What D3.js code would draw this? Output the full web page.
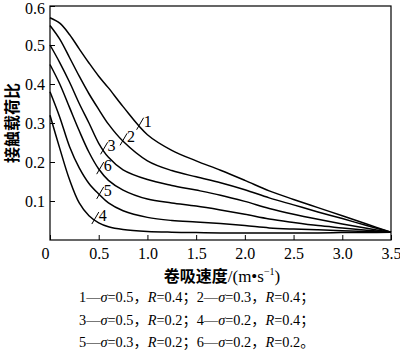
<!DOCTYPE html>
<html><head><meta charset="utf-8">
<script src="https://cdn.jsdelivr.net/npm/d3@7"></script>
<style>
body{margin:0;background:#fff;}
svg{display:block;}
</style></head><body>
<svg id="c" width="400" height="360"></svg>
<script>
// ---- data ----
const speed = [0,0.1,0.2,0.3,0.4,0.5,0.6,0.75,1.0,1.25,1.5,1.75,2.0,2.25,2.5,2.75,3.0,3.25,3.5];
const curve1 = [0.57,0.556,0.527,0.49,0.454,0.42,0.39,0.342,0.27,0.23,0.203,0.179,0.153,0.126,0.104,0.083,0.062,0.041,0.02];
const curve2 = [0.55,0.515,0.468,0.42,0.375,0.335,0.297,0.253,0.203,0.178,0.162,0.147,0.129,0.108,0.09,0.072,0.055,0.037,0.02];
const curve3 = [0.50,0.455,0.405,0.35,0.3,0.248,0.212,0.18,0.155,0.14,0.128,0.115,0.099,0.081,0.066,0.053,0.041,0.03,0.02];
const curve4 = [0.32,0.235,0.155,0.095,0.062,0.044,0.034,0.027,0.022,0.02,0.019,0.018,0.018,0.018,0.018,0.018,0.019,0.019,0.02];
const curve5 = [0.38,0.315,0.24,0.185,0.145,0.118,0.095,0.075,0.058,0.05,0.046,0.042,0.037,0.031,0.028,0.026,0.024,0.022,0.02];
const curve6 = [0.45,0.4,0.34,0.28,0.225,0.182,0.153,0.128,0.105,0.095,0.087,0.077,0.066,0.054,0.045,0.037,0.031,0.025,0.02];
const curveNames = ["1","2","3","4","5","6"];
const curveLabelX = [0.92,0.75,0.55,0.46,0.51,0.51];
const xTicks = [0,0.5,1.0,1.5,2.0,2.5,3.0,3.5];
const xTickLabels = ["0","0.5","1.0","1.5","2.0","2.5","3.0","3.5"];
const yTicks = [0.1,0.2,0.3,0.4,0.5,0.6];
const yTickLabels = ["0.1","0.2","0.3","0.4","0.5","0.6"];
const xTitleCjk = "卷吸速度";
const xTitleUnit = "/(m•s";
const yTitle = "接触载荷比";
const legendRows = [
  [["1—",0],["σ",1],["=0.5，",0],["R",1],["=0.4；2—",0],["σ",1],["=0.3，",0],["R",1],["=0.4；",0]],
  [["3—",0],["σ",1],["=0.5，",0],["R",1],["=0.2；4—",0],["σ",1],["=0.2，",0],["R",1],["=0.4；",0]],
  [["5—",0],["σ",1],["=0.3，",0],["R",1],["=0.2；6—",0],["σ",1],["=0.2，",0],["R",1],["=0.2。",0]]
];

const series = [curve1,curve2,curve3,curve4,curve5,curve6];

// ---- layout ----
const svg = d3.select("#c");
const L=50,R=391,T=6,B=240;
const x = d3.scaleLinear().domain([0,3.5]).range([L,R]);
const y = d3.scaleLinear().domain([0,0.6]).range([B,T]);
const serif = "'Liberation Serif', 'Times New Roman', serif";
const cjk = "'Liberation Serif', 'Noto Sans CJK SC', serif";

// axes
const gx = svg.append("g").attr("transform",`translate(0,${B})`)
  .call(d3.axisBottom(x).tickValues(xTicks).tickFormat((d,i)=>xTickLabels[i]).tickSize(-5).tickSizeOuter(0).tickPadding(8));
gx.select(".domain").remove();
gx.attr("font-family",null).attr("font-size",null);
gx.selectAll("text").style("font-family",serif).style("font-size","16px").attr("fill","#000")
  .attr("dx",(d,i)=>i===0?-5:0);
gx.selectAll("line").attr("stroke","#000");

const gy = svg.append("g").attr("transform",`translate(${L},0)`)
  .call(d3.axisLeft(y).tickValues(yTicks).tickFormat((d,i)=>yTickLabels[i]).tickSize(-5).tickSizeOuter(0).tickPadding(5));
gy.select(".domain").remove();
gy.attr("font-family",null).attr("font-size",null);
gy.selectAll("text").style("font-family",serif).style("font-size","16px").attr("fill","#000")
  .attr("dy",d=>d===0.6?"0.45em":"0.32em");
gy.selectAll("line").attr("stroke","#000");

// frame
svg.append("rect").attr("x",L).attr("y",T).attr("width",R-L).attr("height",B-T)
  .attr("fill","none").attr("stroke","#000").attr("stroke-width",1.2);

// curves
const line = d3.line().x((d,i)=>x(speed[i])).y(d=>y(d)).curve(d3.curveCatmullRom.alpha(0.5));
svg.append("g").selectAll("path").data(series).join("path")
  .attr("d",line).attr("fill","none").attr("stroke","#000").attr("stroke-width",1.5);

// curve labels
function valAt(s,xv){
  for(let i=0;i<speed.length-1;i++){
    if(xv>=speed[i]&&xv<=speed[i+1]){
      const t=(xv-speed[i])/(speed[i+1]-speed[i]);
      return s[i]+t*(s[i+1]-s[i]);
    }
  }
  return s[s.length-1];
}
const lab = svg.append("g");
series.forEach((s,k)=>{
  const px=x(curveLabelX[k]), py=y(valAt(s,curveLabelX[k]));
  lab.append("line").attr("x1",px-3).attr("y1",py+4).attr("x2",px+4).attr("y2",py-8)
    .attr("stroke","#000").attr("stroke-width",1);
  lab.append("text").attr("x",px+4).attr("y",py+1).text(curveNames[k])
    .style("font-family",serif).style("font-size","16px").attr("fill","#000");
});

// titles
const xt = svg.append("text").attr("x",222).attr("y",282).attr("text-anchor","middle")
  .style("font-family",cjk).style("font-size","16px").attr("fill","#000");
xt.append("tspan").text(xTitleCjk).style("font-family","'Noto Sans CJK SC', sans-serif").attr("font-weight","bold");
xt.append("tspan").text(xTitleUnit).style("font-size","17px");
xt.append("tspan").text("−1").style("font-size","10px").attr("dy",-7);
xt.append("tspan").text(")").style("font-size","17px").attr("dy",7);

svg.append("text").attr("transform","translate(11,123) rotate(-90)").attr("text-anchor","middle")
  .attr("dominant-baseline","central")
  .style("font-family","'Noto Sans CJK SC', sans-serif").style("font-size","16px").attr("font-weight","bold")
  .attr("fill","#000").text(yTitle);

// legend
legendRows.forEach((row,r)=>{
  const t = svg.append("text").attr("x",79).attr("y",302+r*22.5)
    .style("font-family",cjk).style("font-size","14.3px").attr("fill","#000");
  row.forEach(([s,it])=>{
    t.append("tspan").text(s).style("font-style",it?"italic":"normal");
  });
});
</script>
</body></html>
